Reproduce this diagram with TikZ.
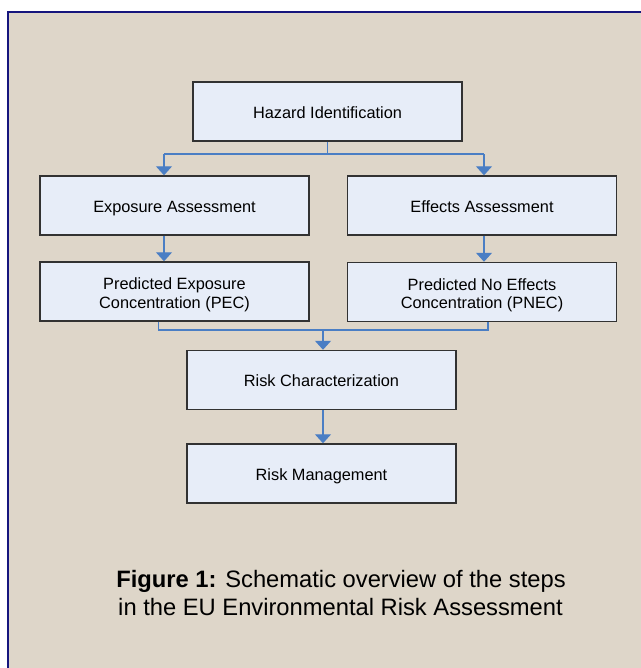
\documentclass[tikz,border=0pt]{standalone}
\usepackage{fontspec}
\setmainfont{Liberation Sans}
\usetikzlibrary{arrows.meta}
\definecolor{bgc}{RGB}{222,214,201}
\definecolor{boxfill}{RGB}{231,237,248}
\definecolor{boxline}{RGB}{50,50,50}
\definecolor{connc}{RGB}{74,126,196}
\definecolor{framec}{RGB}{22,22,125}
\tikzset{
  stepbox/.style={draw=boxline, line width=1.1pt, fill=boxfill, minimum width=201.75pt,
    minimum height=44.25pt, inner sep=0pt, font=\fontsize{12.25}{14}\selectfont,
    text height=10pt, text depth=0pt},
  stepboxtwo/.style={draw=boxline, line width=1.1pt, fill=boxfill, minimum width=201.75pt,
    minimum height=44.25pt, inner sep=0pt, align=center, font=\fontsize{12.25}{14}\selectfont},
  conn/.style={draw=connc, line width=0.9pt},
  arr/.style={conn, -{Triangle[width=12pt,length=6.75pt]}},
  captxt/.style={anchor=base, inner sep=0pt, font=\fontsize{17.8}{21}\selectfont}
}
\begin{document}
\begin{tikzpicture}[x=0.75pt,y=-0.75pt]
\useasboundingbox (0,0) rectangle (641,668);
\fill[white] (0,0) rectangle (641,668);
\fill[bgc] (8,12) rectangle (645,672);
\draw[framec, line width=1.6pt] (8,672) -- (8,12) -- (645,12);

\node[stepbox] (haz) at (327.5,111.5) {Hazard Identification};
\node[stepbox] (exp) at (174.5,205.5) {Exposure Assessment};
\node[stepbox] (eff) at (482,205.5) {Effects Assessment};
\node[stepboxtwo] (pec) at (174.5,291.5) {\rule{0pt}{13.6pt}Predicted Exposure\\Concentration (PEC)};
\node[stepboxtwo] (pnec) at (482,292) {\rule{0pt}{13.6pt}Predicted No Effects\\Concentration (PNEC)};
\node[stepbox] (rc) at (321.5,380) {Risk Characterization};
\node[stepbox] (rm) at (321.5,473.5) {Risk Management};

\coordinate (la) at (164,154);
\coordinate (ra) at (484,154);
\draw[conn] (haz.south) -- (haz.south |- la);
\draw[conn] (la) -- (ra);
\draw[arr] (la) -- (la |- exp.north);
\draw[arr] (ra) -- (ra |- eff.north);
\draw[arr] (la |- exp.south) -- (la |- pec.north);
\draw[arr] (ra |- eff.south) -- (ra |- pnec.north);

\coordinate (lb) at (158.6,330);
\coordinate (rb) at (488,330);
\coordinate (mb) at (323,330);
\draw[conn] (lb |- pec.south) -- (lb) -- (rb) -- (rb |- pnec.south);
\draw[arr] (mb) -- (mb |- rc.north);
\draw[arr] (mb |- rc.south) -- (mb |- rm.north);

\node[captxt] (cap1) at (341,587) {\textbf{Figure 1:} Schematic overview of the steps};
\node[captxt] (cap2) at (340.5,615) {in the EU Environmental Risk Assessment};
\end{tikzpicture}
\end{document}
